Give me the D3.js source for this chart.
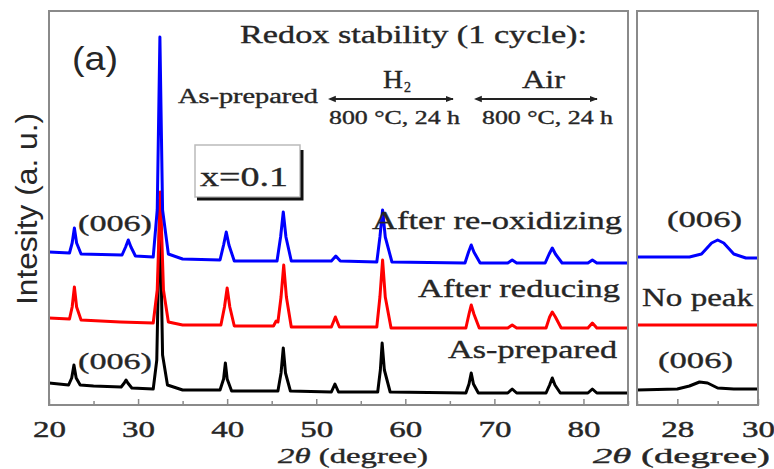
<!DOCTYPE html>
<html><head><meta charset="utf-8">
<script src="https://cdn.jsdelivr.net/npm/d3@7"></script>
<style>body{margin:0;background:#fff}svg{display:block}</style>
</head><body>
<svg id="c" width="774" height="469"></svg>
<script>
// ---- data: [2theta (degree), intensity (a.u., offset per pattern)] ----
const asPrepared = [[20,22],[22.2,20],[22.55,27],[22.8,40],[23.05,27],[23.5,20],[25,19],[28.1,18],[28.45,22],[28.65,25],[28.85,22],[29.3,17],[31.7,16],[32.1,45],[32.45,205],[32.75,50],[33.3,20],[35,15],[39.2,15],[39.6,26],[39.8,42],[40.0,26],[40.5,14],[45.7,14],[46.05,32],[46.3,57],[46.55,32],[47.1,14],[51.7,13],[52.1,21],[52.5,13],[56.9,13],[57.2,35],[57.4,62],[57.65,35],[58.3,13],[66.8,12],[67.15,21],[67.4,32],[67.65,21],[68.2,12],[71.5,12],[72.0,16],[72.5,12],[75.8,12],[76.2,20],[76.5,27],[76.8,20],[77.4,12],[80.5,12],[81.0,16],[81.5,12],[85,12]];
const afterReducing = [[20,87],[22.3,86],[22.6,98],[22.85,118],[23.1,98],[23.6,85],[28,83],[31.7,82],[32.15,115],[32.5,213],[32.85,115],[33.4,83],[35,80],[39.3,80],[39.7,98],[40.0,117],[40.3,98],[40.8,79],[45.2,79],[45.5,84],[45.7,83],[46.05,108],[46.35,140],[46.65,108],[47.2,78],[51.7,78],[52.15,88],[52.6,78],[56.8,78],[57.15,108],[57.45,145],[57.75,108],[58.4,77],[66.8,77],[67.15,91],[67.4,100],[67.7,91],[68.3,77],[71.5,77],[72.0,80],[72.5,77],[75.8,77],[76.2,88],[76.5,93],[76.85,88],[77.5,77],[80.5,77],[81.0,82],[81.5,77],[85,77]];
const afterReoxidizing = [[20,153],[22.3,152],[22.6,162],[22.85,177],[23.1,162],[23.6,151],[28.2,150],[28.6,158],[28.9,165],[29.2,158],[29.7,149],[31.7,148],[32.15,195],[32.45,368],[32.75,195],[33.4,151],[35,146],[39.2,145],[39.6,160],[39.9,173],[40.2,160],[40.8,144],[45.6,144],[46.0,168],[46.3,193],[46.6,168],[47.2,144],[51.7,144],[52.2,149],[52.7,144],[56.8,143],[57.15,168],[57.45,195],[57.75,168],[58.5,143],[66.7,142],[67.1,153],[67.4,160],[67.7,153],[68.4,142],[71.5,142],[72.0,145],[72.5,142],[75.7,142],[76.15,151],[76.5,157],[76.85,151],[77.6,142],[80.5,142],[81.0,145],[81.5,142],[85,142]];
// zoom panel (27-30 degree)
const zoomAsPrepared = [[27,15],[28.0,16],[28.3,19],[28.55,23],[28.75,22],[29.0,17],[29.4,16],[30,16]];
const zoomReducing = [[27,80],[28.5,80],[30,80]];
const zoomReoxidizing = [[27,148],[28.3,148],[28.6,151],[28.85,162],[29.0,165],[29.15,162],[29.4,151],[29.7,147],[30,147]];
const mainTicks = [20,30,40,50,60,70,80];
const mainMinor = [25,35,45,55,65,75,85];
const zoomTicks = [28,30];
const zoomMinor = [27,29];

const svg = d3.select('#c');
const serif = "'Liberation Serif','Times New Roman',serif";
const sans = "'Liberation Sans',Arial,sans-serif";
const txtCol = '#262626', frameCol = '#8a8a8a';

const yTop = 11, yBot = 405;
const x1 = d3.scaleLinear().domain([20,85]).range([49,628]);
const x2 = d3.scaleLinear().domain([27,30]).range([637,758]);
const y = d3.scaleLinear().domain([0,394]).range([yBot, yTop]);

function panel(x, series, ticks, minor) {
  const g = svg.append('g');
  const cp = 'cp' + Math.round(x.range()[0]);
  svg.append('clipPath').attr('id', cp).append('rect')
    .attr('x', x.range()[0]).attr('y', yTop).attr('width', x.range()[1]-x.range()[0]).attr('height', yBot-yTop);
  const line = d3.line().x(d=>x(d[0])).y(d=>y(d[1]));
  const lg = g.append('g').attr('clip-path', `url(#${cp})`);
  series.forEach(([data,col]) => {
    lg.append('path').datum(data).attr('d', line).attr('fill','none')
      .attr('stroke', col).attr('stroke-width', 3).attr('stroke-linejoin','round');
  });
  const minAx = d3.axisBottom(x).tickValues(minor).tickSizeInner(-4).tickSizeOuter(0).tickFormat('');
  const mg = g.append('g').attr('transform', `translate(0,${yBot})`).call(minAx);
  mg.select('.domain').remove();
  mg.selectAll('line').attr('stroke', frameCol).attr('stroke-width', 1.5);
  const ax = d3.axisBottom(x).tickValues(ticks).tickSizeInner(-6).tickSizeOuter(0).tickFormat(d3.format('d'));
  const ag = g.append('g').attr('transform', `translate(0,${yBot})`).call(ax);
  ag.select('.domain').remove();
  ag.selectAll('line').attr('stroke', frameCol).attr('stroke-width', 1.5);
  ag.selectAll('text').attr('y', 32).attr('dy', null)
    .attr('font-family', serif).attr('font-size', 23).attr('fill', txtCol)
    .attr('stroke', txtCol).attr('stroke-width', 0.4)
    .attr('textLength', 33).attr('lengthAdjust','spacingAndGlyphs');
  g.append('rect').attr('x', x.range()[0]).attr('y', yTop)
    .attr('width', x.range()[1]-x.range()[0]).attr('height', yBot-yTop)
    .attr('fill','none').attr('stroke', frameCol).attr('stroke-width', 2);
}
panel(x1, [[asPrepared,'#000'],[afterReducing,'#ff0000'],[afterReoxidizing,'#0000ff']], mainTicks, mainMinor);
panel(x2, [[zoomAsPrepared,'#000'],[zoomReducing,'#ff0000'],[zoomReoxidizing,'#0000ff']], zoomTicks, zoomMinor);

function label(t, x, yb, size, len, fam) {
  const e = svg.append('text').attr('x', x).attr('y', yb).attr('font-family', fam||serif)
    .attr('font-size', size).attr('fill', txtCol).text(t);
  if (!fam) e.attr('stroke', txtCol).attr('stroke-width', 0.35);
  if (len) e.attr('textLength', len).attr('lengthAdjust','spacingAndGlyphs');
  return e;
}
label('Redox stability (1 cycle):', 240, 43, 25, 347);
label('(a)', 72, 70, 34, 46, sans);
label('As-prepared', 178, 103, 20, 140);
label('H', 383, 88, 26, 20);
label('2', 404, 92, 14, 7);
label('Air', 522, 88, 26, 43);
label('800 °C, 24 h', 329, 124, 18, 131);
label('800 °C, 24 h', 482, 124, 18, 131);
label('x=0.1', 200, 186, 28, 88);
label('(006)', 78, 231, 24, 74);
label('(006)', 78, 369, 24, 74);
label('After re-oxidizing', 372, 229, 26, 250);
label('After reducing', 418, 297, 26, 202);
label('As-prepared', 448, 358, 26, 169);
label('(006)', 667, 227, 24, 75);
label('No peak', 642, 306, 26, 111);
label('(006)', 658, 368, 24, 75);

const defs = svg.append('defs');
['s','e'].forEach(k => {
  defs.append('marker').attr('id','ar'+k).attr('viewBox','0 0 10 10').attr('refX', k==='e'?9:1).attr('refY',5)
    .attr('markerWidth',4).attr('markerHeight',4).attr('orient','auto-start-reverse')
    .append('path').attr('d','M0,1 L10,5 L0,9 z').attr('fill','#222');
});
[[335,453],[481,597]].forEach(([a,b]) => {
  svg.append('line').attr('x1',a).attr('x2',b).attr('y1',99).attr('y2',99)
    .attr('stroke','#222').attr('stroke-width',2)
    .attr('marker-start','url(#ars)').attr('marker-end','url(#are)');
});

svg.append('rect').attr('x',195).attr('y',145).attr('width',105).attr('height',52)
  .attr('fill','none').attr('stroke','#bbb').attr('stroke-width',1.5);
svg.append('path').attr('d','M302,150 L302,199 L197,199').attr('fill','none')
  .attr('stroke','#111').attr('stroke-width',3);

function xtitle(x, len) {
  const t = svg.append('text').attr('x', x).attr('y', 463).attr('font-family', serif)
    .attr('font-size', 21).attr('fill', txtCol).attr('stroke', txtCol).attr('stroke-width', 0.35)
    .attr('textLength', len).attr('lengthAdjust','spacingAndGlyphs');
  t.append('tspan').attr('font-style','italic').text('2θ');
  t.append('tspan').text(' (degree)');
}
xtitle(278, 150);
xtitle(593, 177);
svg.append('text').attr('transform','translate(37,209) rotate(-90)').attr('text-anchor','middle')
  .attr('font-family', sans).attr('font-size', 30).attr('fill', txtCol)
  .attr('textLength', 192).attr('lengthAdjust','spacingAndGlyphs').text('Intesity (a. u.)');
</script>
</body></html>
